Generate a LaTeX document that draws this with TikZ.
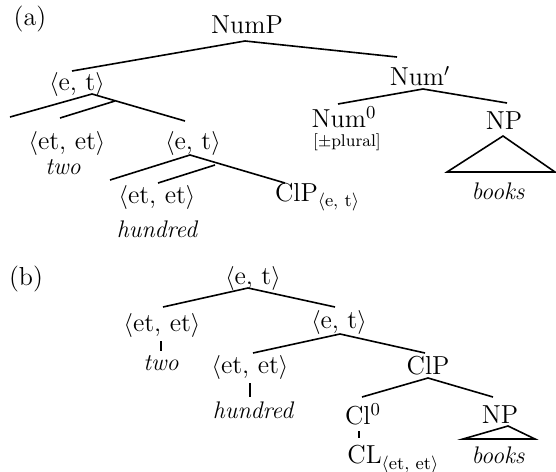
\documentclass[tikz,border=0pt]{standalone}
\begin{document}
\begin{tikzpicture}[x=0.5pt,y=-0.5pt,
	categorie/.style={inner sep=0pt, font=\fontsize{13}{15}\selectfont},
	mot/.style={inner sep=0pt, font=\fontsize{12}{14}\selectfont\itshape},
	trait/.style={line width=0.8pt}]
	%\draw[help lines] (0,0) grid[step=50] (556,471);
	\useasboundingbox (0,0) rectangle (556,471);
	% (a)
	\path
		(30,19) node[categorie] (la) {(a)}
		(247,25) node[categorie] (NumP) {NumP}
		(77,84) node[categorie] (eta) {$\langle$e, t$\rangle$}
		(67,143) node[categorie] (etetA) {$\langle$et, et$\rangle$}
		(63,167) node[mot] (twoA) {two}
		(193,143) node[categorie] (etb) {$\langle$e, t$\rangle$}
		(157,197) node[categorie] (etetB) {$\langle$et, et$\rangle$}
		(157,229) node[mot] (hundredA) {hundred}
		(317,197) node[categorie] (ClPA) {ClP\raisebox{-0.5ex}{\fontsize{9}{10}\selectfont$\langle$e, t$\rangle$}}
		(420,76) node[categorie] (NumB) {Num$'$}
		(344,127) node[categorie,anchor=base] (NumZ) {Num\textsuperscript{0}}
		(347,146) node[categorie,anchor=base,font=\fontsize{8.5}{10}\selectfont] (plural) {[$\pm$plural]}
		(504,121) node[categorie] (NPA) {NP}
		(498,191) node[mot] (booksA) {books}
	;
	\path
		(72,71) coordinate (A1) (245,41) coordinate (A2) (397,57) coordinate (A3)
		(92,94) coordinate (B0) (10,117) coordinate (B1) (185,121) coordinate (B2)
		(60,118) coordinate (B3) (115,101) coordinate (B4)
		(190,155) coordinate (C0) (110,180) coordinate (C1) (285,183) coordinate (C2)
		(158,183) coordinate (C3) (215,165) coordinate (C4)
		(423,89) coordinate (D0) (338,104) coordinate (D1) (507,103) coordinate (D2)
		(503,136) coordinate (T0) (447,172) coordinate (T1) (555,172) coordinate (T2)
	;
	\draw[trait] (A1) -- (A2) -- (A3);
	\draw[trait] (B1) -- (B0) -- (B2);
	\draw[trait] (B3) -- (B4);
	\draw[trait] (C1) -- (C0) -- (C2);
	\draw[trait] (C3) -- (C4);
	\draw[trait] (D1) -- (D0) -- (D2);
	\draw[trait] (T0) -- (T1) -- (T2) -- cycle;
	% (b)
	\path
		(26,279) node[categorie] (lb) {(b)}
		(253,278) node[categorie] (etc) {$\langle$e, t$\rangle$}
		(162,325) node[categorie] (etetC) {$\langle$et, et$\rangle$}
		(161,363) node[mot] (twoB) {two}
		(339,322) node[categorie] (etd) {$\langle$e, t$\rangle$}
		(250,367) node[categorie] (etetD) {$\langle$et, et$\rangle$}
		(253,410) node[mot] (hundredB) {hundred}
		(428,366) node[categorie] (ClPB) {ClP}
		(363,414) node[categorie] (ClZ) {Cl\textsuperscript{0}}
		(347,463) node[categorie,anchor=base west] (CL) {CL\raisebox{-0.6ex}{\fontsize{9}{10}\selectfont$\langle$et, et$\rangle$}}
		(500,415) node[categorie] (NPB) {NP}
		(498,455) node[mot] (booksB) {books}
	;
	\path
		(248,288) coordinate (E0) (163,307) coordinate (E1) (335,307) coordinate (E2)
		(340,334) coordinate (F0) (253,353) coordinate (F1) (425,353) coordinate (F2)
		(428,378) coordinate (G0) (362,397) coordinate (G1) (493,397) coordinate (G2)
		(508,426) coordinate (U0) (463,439) coordinate (U1) (535,439) coordinate (U2)
	;
	\draw[trait] (E1) -- (E0) -- (E2);
	\draw[trait] (F1) -- (F0) -- (F2);
	\draw[trait] (G1) -- (G0) -- (G2);
	\draw[trait] (U0) -- (U1) -- (U2) -- cycle;
	\draw[trait,shorten <=2pt,shorten >=2pt] (etetC.south -| 161,0) -- (twoB.north -| 161,0);
	\draw[trait,shorten <=2pt,shorten >=2pt] (etetD.south -| 250,0) -- (hundredB.north -| 250,0);
	\draw[trait,shorten <=3pt,shorten >=3pt] (ClZ.south -| 359,0) -- (CL.north -| 359,0);
\end{tikzpicture}
\end{document}
